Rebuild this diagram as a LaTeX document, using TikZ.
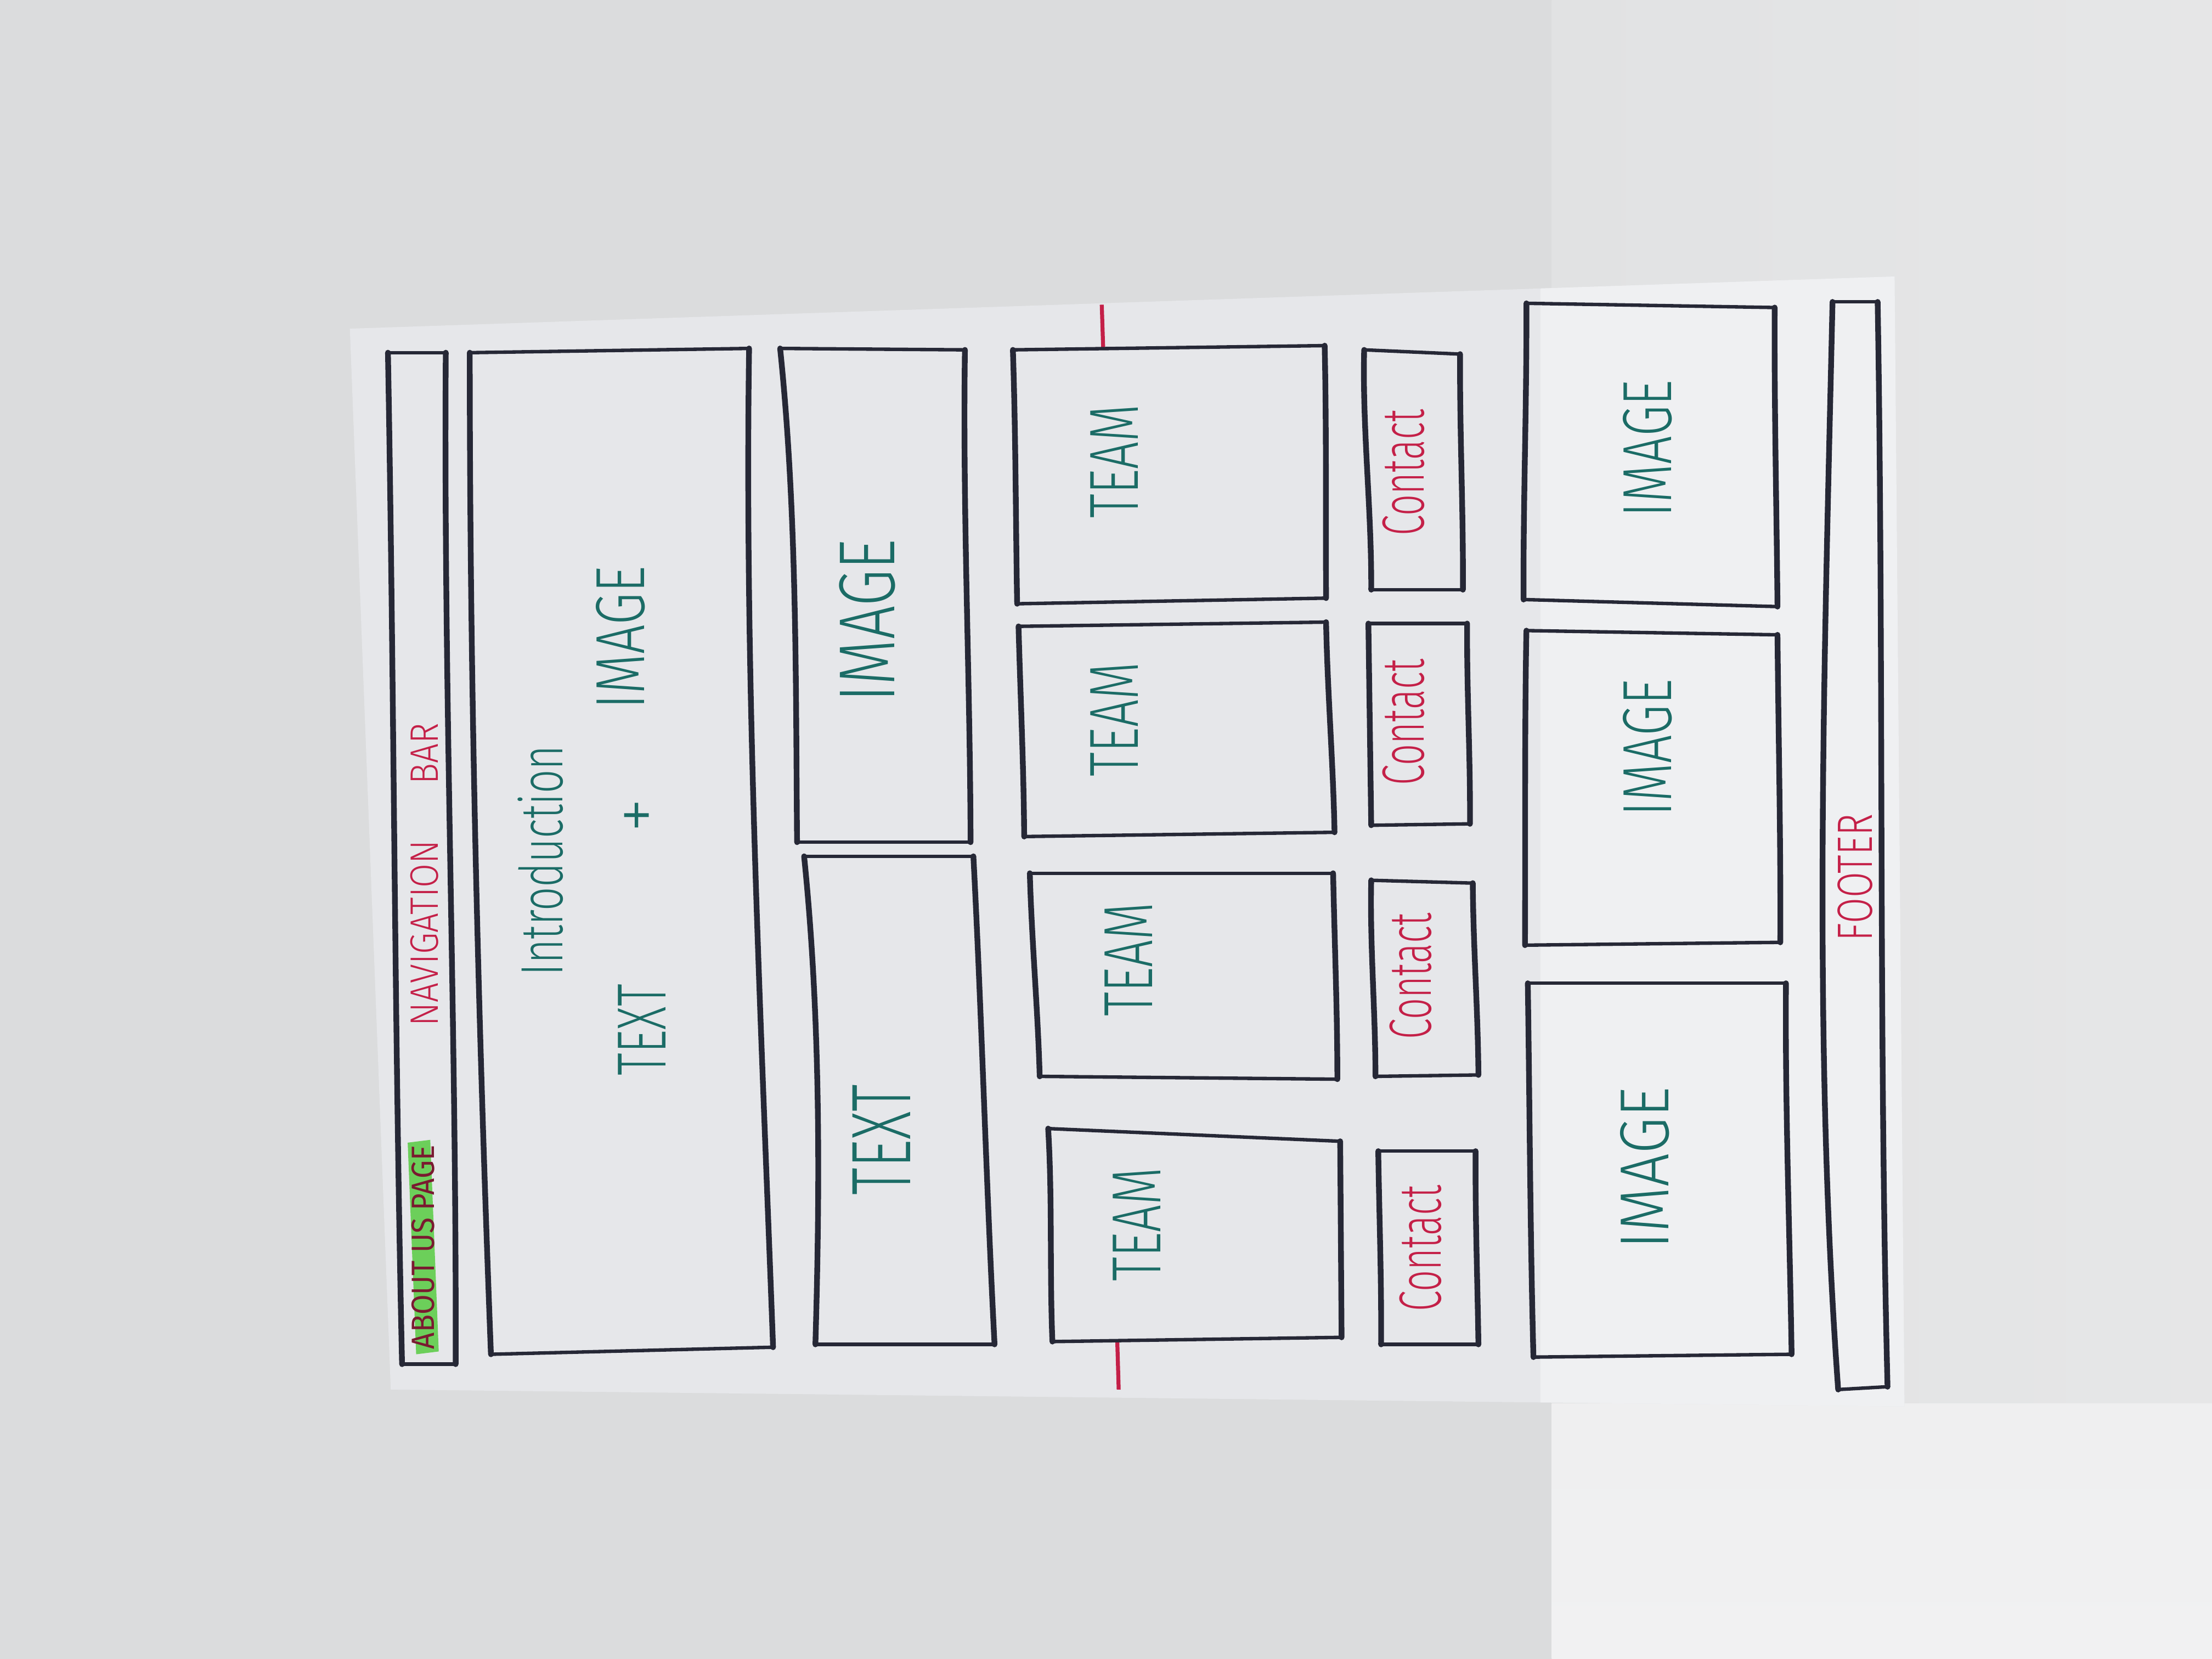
\documentclass[tikz,border=0pt]{standalone}
\usepackage{fontspec}
\setmainfont{Fira Sans Light}
\newfontfamily\markerfont{Fira Sans}
\usetikzlibrary{calc}

\definecolor{wall}{HTML}{DBDCDD}
\definecolor{walllit}{HTML}{E1E2E3}
\definecolor{wallbright}{HTML}{F1F1F2}
\definecolor{paper}{HTML}{E6E7EA}
\definecolor{paperlit}{HTML}{EFF0F2}
\definecolor{ink}{HTML}{262836}
\definecolor{tealink}{HTML}{1B6C66}
\definecolor{redink}{HTML}{C42048}
\definecolor{marker}{HTML}{6CCF5A}
\definecolor{darkred}{HTML}{7A1A30}

\tikzset{
  edge thin/.style={draw=ink, line width=0.7pt, line cap=round, line join=round},
  edge thick/.style={draw=ink, line width=1.15pt, line cap=round},
  hand/.style 2 args={rotate=90, inner sep=0pt, font=\fontsize{#1}{#1}\selectfont, xscale=#2},
  teal text/.style={text=tealink},
  red text/.style={text=redink},
  tick/.style={draw=redink, line width=0.8pt},
}

% A hand-drawn box: corners TL, TR, BR, BL, then sideways wobble of the
% left side (two control offsets) and of the right side (two offsets).
\newcommand\wirebox[8]{%
  \draw[edge thin] #1 -- #2;
  \draw[edge thin] #4 -- #3;
  \draw[edge thick] #1 .. controls ($#1!0.33!#4+(#5,0)$) and ($#1!0.67!#4+(#6,0)$) .. #4;
  \draw[edge thick] #2 .. controls ($#2!0.33!#3+(#7,0)$) and ($#2!0.67!#3+(#8,0)$) .. #3;
}

\begin{document}
\begin{tikzpicture}[x=0.01cm, y=-0.01cm]
\useasboundingbox (0,0) rectangle (1568,1176);

% wall behind the sheet, lit from the right
\fill[wall] (0,0) rectangle (1568,1176);
\shade[left color=walllit, right color=walllit!70!wallbright] (1100,0) rectangle (1568,1176);
\shade[top color=wallbright!85!walllit, bottom color=wallbright] (1100,995) rectangle (1568,1176);

% the sheet of paper
\fill[paper] (248,233) -- (1343,196) -- (1350,997) -- (277,985) -- cycle;
\begin{scope}
  \clip (248,233) -- (1343,196) -- (1350,997) -- (277,985) -- cycle;
  \fill[paperlit] (1092,150) rectangle (1400,1050);
\end{scope}

% red guide ticks at the top and bottom of the team column
\coordinate (tickTopA) at (781,216);
\coordinate (tickTopB) at (782,247);
\coordinate (tickBotA) at (792,951);
\coordinate (tickBotB) at (793,985);
\draw[tick] (tickTopA) -- (tickTopB);
\draw[tick] (tickBotA) -- (tickBotB);

% navigation bar
\wirebox{(275,250)}{(316,250)}{(323,967)}{(285,967)}{1}{-2}{-4}{3}
\fill[marker] (289,810) -- (305,808) -- (311,958) -- (295,960) -- cycle;
\node[hand={6.5}{0.9}, text=darkred, font=\markerfont\fontsize{6.5}{6.5}\selectfont] (aboutlabel) at (300,884) {ABOUT US PAGE};
\node[hand={8}{0.88}, red text] (navlabel) at (301,620) {NAVIGATION\hspace{0.45cm}BAR};

% introduction block
\wirebox{(333,250)}{(531,247)}{(548,955)}{(348,960)}{-5}{-4}{-9}{-3}
\node[hand={12}{0.7}, teal text] (introlabel) at (383,610) {Introduction};
\node[hand={14}{0.65}, teal text] (introtext) at (455,730) {TEXT};
\node[hand={14}{1}, teal text] (introplus) at (455,578) {+};
\node[hand={14}{0.75}, teal text] (introimage) at (440,452) {IMAGE};

% image and text column
\wirebox{(553,247)}{(684,248)}{(688,597)}{(565,597)}{8}{3}{-3}{1}
\node[hand={16}{0.75}, teal text] (imagelabel) at (615,440) {IMAGE};
\wirebox{(570,607)}{(690,607)}{(705,953)}{(578,953)}{9}{6}{1}{-1}
\node[hand={17}{0.65}, teal text] (textlabel) at (625,808) {TEXT};

% team members
\wirebox{(718,248)}{(939,245)}{(940,424)}{(721,428)}{1}{0}{1}{0}
\node[hand={14}{0.7}, teal text] (teamA) at (790,327) {TEAM};
\wirebox{(722,444)}{(940,441)}{(946,590)}{(726,593)}{0}{1}{-1}{1}
\node[hand={14}{0.7}, teal text] (teamB) at (790,510) {TEAM};
\wirebox{(730,619)}{(945,619)}{(948,765)}{(737,763)}{-1}{1}{0}{1}
\node[hand={14}{0.7}, teal text] (teamC) at (800,680) {TEAM};
\wirebox{(743,800)}{(950,809)}{(951,948)}{(746,951)}{2}{-1}{0}{0}
\node[hand={14}{0.7}, teal text] (teamD) at (806,868) {TEAM};

% contact details
\wirebox{(967,248)}{(1035,251)}{(1037,418)}{(972,418)}{-3}{2}{-1}{1}
\node[hand={12}{0.63}, red text] (contactA) at (995,335) {Contact};
\wirebox{(970,442)}{(1040,442)}{(1042,584)}{(972,585)}{0}{0}{-1}{1}
\node[hand={12}{0.63}, red text] (contactB) at (995,512) {Contact};
\wirebox{(972,624)}{(1044,626)}{(1048,762)}{(975,763)}{-2}{1}{-1}{1}
\node[hand={12}{0.63}, red text] (contactC) at (1000,692) {Contact};
\wirebox{(977,816)}{(1046,816)}{(1048,953)}{(979,953)}{0}{1}{-1}{0}
\node[hand={12}{0.63}, red text] (contactD) at (1007,885) {Contact};

% gallery images
\wirebox{(1082,215)}{(1258,218)}{(1260,430)}{(1080,425)}{1}{-1}{-1}{0}
\node[hand={14}{0.72}, teal text] (galleryA) at (1168,318) {IMAGE};
\wirebox{(1082,447)}{(1260,450)}{(1262,668)}{(1081,670)}{-1}{0}{0}{1}
\node[hand={14}{0.72}, teal text] (galleryB) at (1168,530) {IMAGE};
\wirebox{(1083,697)}{(1266,697)}{(1270,960)}{(1087,962)}{0}{-1}{-2}{0}
\node[hand={14}{0.85}, teal text] (galleryC) at (1166,828) {IMAGE};

% footer
\wirebox{(1299,214)}{(1331,214)}{(1338,983)}{(1303,985)}{-7}{-17}{2}{-4}
\node[hand={10}{0.75}, red text] (footerlabel) at (1315,622) {FOOTER};
\end{tikzpicture}
\end{document}
